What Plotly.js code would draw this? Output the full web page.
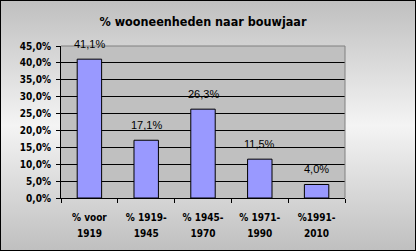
<!DOCTYPE html>
<html>
<head>
<meta charset="utf-8">
<script src="https://cdn.plot.ly/plotly-3.0.1.min.js"></script>
<style>
html,body{margin:0;padding:0;}
#wrap{position:relative;width:416px;height:251px;background:linear-gradient(to bottom,#bfbfbf 0%,#f4f4f4 50%,#bfbfbf 100%);}
#chart{position:absolute;left:0;top:0;width:416px;height:251px;}
#border{position:absolute;left:0;top:0;width:414px;height:249px;border:1px solid #000;pointer-events:none;}
</style>
</head>
<body>
<div id="wrap"><div id="chart"></div><div id="border"></div></div>
<script>
const categories = ["% voor<br>1919", "% 1919-<br>1945", "% 1945-<br>1970", "% 1971-<br>1990", "%1991-<br>2010"];
const values = [0.411, 0.171, 0.263, 0.115, 0.040];
const labels = ["41,1%", "17,1%", "26,3%", "11,5%", "4,0%"];
const yTicks = [0, 0.05, 0.10, 0.15, 0.20, 0.25, 0.30, 0.35, 0.40, 0.45];
const titleText = "% wooneenheden naar bouwjaar";

const tickLabelsX = categories.map(c => '<span style="font-size:10px">' + c + '</span>');

const trace = {
  type: 'bar',
  x: categories,
  y: values,
  marker: {color: '#9999ff', line: {color: '#000000', width: 1}},
  width: 0.43,
  hoverinfo: 'none'
};

const annotations = categories.map((c, i) => ({
  x: c, y: values[i], xref: 'x', yref: 'y',
  text: labels[i], showarrow: false,
  yanchor: 'bottom', yshift: 7,
  font: {family: 'Liberation Sans, Arial, sans-serif', size: 11, color: '#000'}
}));

const layout = {
  width: 416, height: 251,
  margin: {l: 61, r: 71, t: 46, b: 53},
  paper_bgcolor: 'rgba(0,0,0,0)',
  plot_bgcolor: '#c0c0c0',
  separators: ',.',
  showlegend: false,
  title: {
    text: titleText,
    x: 0.5, xref: 'paper', xanchor: 'center',
    y: 1 - 22/251, yref: 'container', yanchor: 'middle',
    font: {family: 'DejaVu Sans Condensed, DejaVu Sans, sans-serif', size: 12.5, weight: 'bold', color: '#000'}
  },
  xaxis: {
    type: 'category',
    tickvals: categories,
    ticktext: tickLabelsX,
    showline: true, linecolor: '#000', linewidth: 1,
    ticks: 'outside', ticklen: 4, tickcolor: '#000',
    tickson: 'boundaries',
    ticklabelstandoff: 7,
    showgrid: false, zeroline: false,
    tickfont: {family: 'DejaVu Sans Condensed, DejaVu Sans, sans-serif', size: 12.5, weight: 'bold', color: '#000'},
    fixedrange: true
  },
  yaxis: {
    range: [0, 0.45],
    tickvals: yTicks,
    tickformat: '.1%',
    showline: true, linecolor: '#000', linewidth: 1,
    ticks: 'outside', ticklen: 4, tickcolor: '#000',
    ticklabelstandoff: 3,
    showgrid: true, gridcolor: '#000', gridwidth: 1,
    zeroline: false,
    tickfont: {family: 'DejaVu Sans Condensed, DejaVu Sans, sans-serif', size: 10, weight: 'bold', color: '#000'},
    fixedrange: true
  },
  shapes: [
    {type: 'line', xref: 'paper', yref: 'paper', x0: 0, x1: 1, y0: 1, y1: 1, line: {color: '#808080', width: 1}},
    {type: 'line', xref: 'paper', yref: 'paper', x0: 1, x1: 1, y0: 0, y1: 1, line: {color: '#808080', width: 1}}
  ],
  annotations: annotations
};

Plotly.newPlot('chart', [trace], layout, {displayModeBar: false, staticPlot: true});
</script>
</body>
</html>
